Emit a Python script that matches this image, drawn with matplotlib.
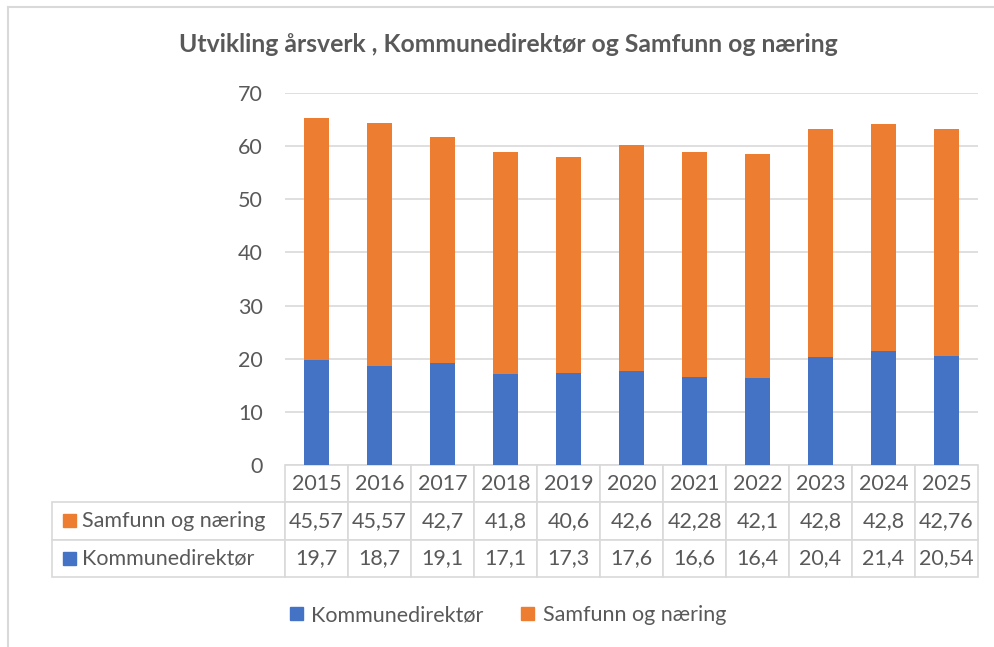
import matplotlib
matplotlib.use("Agg")
import matplotlib.pyplot as plt
from matplotlib.patches import Patch, Rectangle
from matplotlib.lines import Line2D

plt.rcParams['font.family'] = ['Lato', 'DejaVu Sans']

years = ['2015', '2016', '2017', '2018', '2019', '2020', '2021', '2022', '2023', '2024', '2025']
kommunedirektor = [19.7, 18.7, 19.1, 17.1, 17.3, 17.6, 16.6, 16.4, 20.4, 21.4, 20.54]
samfunn = [45.57, 45.57, 42.7, 41.8, 40.6, 42.6, 42.28, 42.1, 42.8, 42.8, 42.76]
kom_labels = ['19,7', '18,7', '19,1', '17,1', '17,3', '17,6', '16,6', '16,4', '20,4', '21,4', '20,54']
sam_labels = ['45,57', '45,57', '42,7', '41,8', '40,6', '42,6', '42,28', '42,1', '42,8', '42,8', '42,76']
series_names = ['Samfunn og næring', 'Kommunedirektør']

BLUE = '#4472C4'
ORANGE = '#ED7D31'
TXT = '#595959'
GRID = '#D9D9D9'
FS = 15.5

W, H = 994, 647
fig = plt.figure(figsize=(W / 100, H / 100), dpi=100)

# outer frame (only top/left visible in the reference crop)
fig.add_artist(Line2D([8 / W, 1], [1 - 7 / H, 1 - 7 / H], color=GRID, lw=1.5))
fig.add_artist(Line2D([8 / W, 8 / W], [0, 1 - 7 / H], color=GRID, lw=1.5))

fig.text(508 / W, 1 - 45 / H, 'Utvikling årsverk , Kommunedirektør og Samfunn og næring',
         ha='center', va='center', fontsize=17.8, fontweight='bold', color=TXT)

ax = fig.add_axes([285 / W, 1 - 465 / H, 693 / W, 372 / H])
x = range(len(years))
ax.bar(x, kommunedirektor, width=0.41, color=BLUE, zorder=3)
ax.bar(x, samfunn, width=0.41, bottom=kommunedirektor, color=ORANGE, zorder=3)

ax.set_xlim(-0.5, len(years) - 0.5)
ax.set_ylim(0, 70)
ax.set_yticks(range(0, 71, 10))
ax.yaxis.grid(True, color=GRID, lw=1.2, zorder=0)
ax.tick_params(axis='y', length=0, pad=16, labelsize=FS, labelcolor=TXT)
ax.set_xticks([])
for s in ax.spines.values():
    s.set_visible(False)

# data table
cell_text = [[series_names[0]] + sam_labels, [series_names[1]] + kom_labels]
label_w = 233.0
col_w = 63.0
total = label_w + col_w * len(years)
tbl = ax.table(cellText=cell_text, colLabels=[''] + years,
               colWidths=[label_w / total] + [col_w / total] * len(years),
               cellLoc='center',
               bbox=[-233 / 693, -112 / 372, total / 693, 112 / 372])
tbl.auto_set_font_size(False)
for (r, c), cell in tbl.get_celld().items():
    cell.set_edgecolor(GRID)
    cell.set_linewidth(1.2)
    cell.get_text().set_color(TXT)
    cell.get_text().set_fontsize(FS)
    if r == 0 and c == 0:
        cell.visible_edges = 'open'
    if c == 0 and r > 0:
        cell.get_text().set_ha('left')
        cell._loc = 'left'
        cell.PAD = 30 / 233

# colour keys in the table rows
key = 13
for i, col in enumerate([ORANGE, BLUE]):
    yc = 465 + 37.33 * (i + 1.5)
    ax.add_patch(Rectangle(((63 - 285) / 693, -(yc - 465 + key / 2) / 372),
                           key / 693, key / 372, transform=ax.transAxes,
                           color=col, clip_on=False))

handles = [Patch(color=BLUE), Patch(color=ORANGE)]
fig.legend(handles, ['Kommunedirektør', 'Samfunn og næring'], loc='center',
           bbox_to_anchor=(508 / W, 1 - 615 / H), ncol=2, frameon=False,
           fontsize=FS, labelcolor=TXT, handlelength=0.6, handleheight=0.6,
           handletextpad=0.4, columnspacing=1.75)

fig.savefig('out.png', dpi=100)
